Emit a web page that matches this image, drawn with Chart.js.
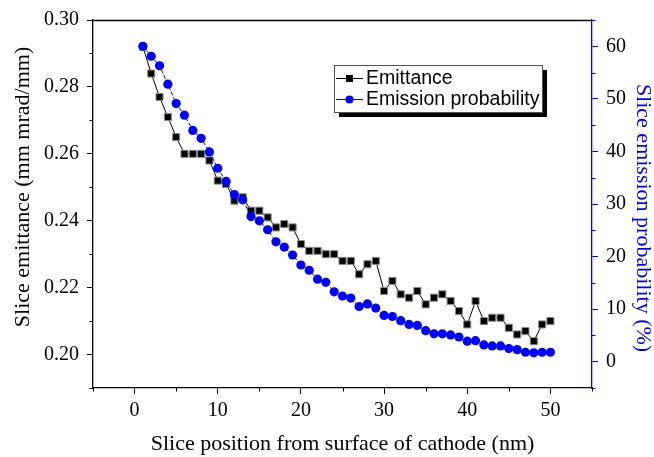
<!DOCTYPE html>
<html><head><meta charset="utf-8">
<script src="https://cdn.jsdelivr.net/npm/chart.js@4/dist/chart.umd.min.js"></script>
<style>html,body{margin:0;padding:0;background:#fff;overflow:hidden}</style>
</head><body>
<canvas id="c" width="654" height="457" style="display:block;width:654px;height:457px"></canvas>
<script>
// ---- data ----
const slicePositions = [1,2,3,4,5,6,7,8,9,10,11,12,13,14,15,16,17,18,19,20,21,22,23,24,25,26,27,28,29,30,31,32,33,34,35,36,37,38,39,40,41,42,43,44,45,46,47,48,49,50];
const emittance = [0.292,0.284,0.277,0.271,0.265,0.260,0.260,0.260,0.258,0.252,0.251,0.246,0.247,0.243,0.243,0.241,0.238,0.239,0.238,0.233,0.231,0.231,0.230,0.230,0.228,0.228,0.224,0.227,0.228,0.219,0.222,0.218,0.217,0.219,0.215,0.217,0.218,0.216,0.213,0.209,0.216,0.210,0.211,0.211,0.208,0.206,0.207,0.204,0.209,0.210];
const emissionProbability = [60.0,58.1,56.3,52.8,49.1,46.9,44.0,42.5,39.9,36.8,34.3,31.8,30.8,27.6,26.8,25.1,22.8,21.8,20.3,18.4,17.4,15.7,15.1,13.3,12.5,12.1,10.5,11.0,10.2,8.8,8.6,7.8,7.1,6.9,5.9,5.3,5.3,5.1,4.7,3.9,4.0,3.2,3.0,3.0,2.5,2.3,1.8,1.7,1.8,1.8];
const xMajorTicks = [0,10,20,30,40,50];
const xMinorTicks = [-5,5,15,25,35,45,55];
const emitMajorTicks = [0.20,0.22,0.24,0.26,0.28,0.30];
const emitMinorTicks = [0.19,0.21,0.23,0.25,0.27,0.29];
const probMajorTicks = [0,10,20,30,40,50,60];
const probMinorTicks = [-5,5,15,25,35,45,55,65];
const seriesNames = ['Emittance','Emission probability'];
const axisTitles = {
  x: 'Slice position from surface of cathode (nm)',
  left: 'Slice emittance (mm mrad/mm)',
  right: 'Slice emission probability (%)'
};

const BLUE = '#0000ff';
const SERIF = '"Liberation Serif", "Times New Roman", serif';
const SANS = '"Liberation Sans", Arial, sans-serif';

const toPts = (ys) => slicePositions.map((x, i) => ({x, y: ys[i]}));
const setTicks = (arr) => (s) => { s.ticks = arr.map(v => ({value: v})); };

const extras = {
  id: 'extras',
  afterDraw(chart) {
    const ctx = chart.ctx;
    const ca = chart.chartArea;
    const sx = chart.scales.x, sl = chart.scales.yL, sr = chart.scales.yR;
    ctx.save();
    // top frame line
    ctx.strokeStyle = '#000'; ctx.lineWidth = 1.3;
    ctx.beginPath(); ctx.moveTo(ca.left, ca.top + 0.5); ctx.lineTo(ca.right, ca.top + 0.5); ctx.stroke();
    // minor ticks
    ctx.lineWidth = 1;
    ctx.beginPath();
    xMinorTicks.forEach(v => { const p = Math.round(sx.getPixelForValue(v)) + 0.5; ctx.moveTo(p, ca.bottom); ctx.lineTo(p, ca.bottom + 3.5); });
    emitMinorTicks.forEach(v => { const p = Math.round(sl.getPixelForValue(v)) + 0.5; ctx.moveTo(ca.left, p); ctx.lineTo(ca.left - 3.5, p); });
    ctx.stroke();
    ctx.strokeStyle = BLUE;
    ctx.beginPath();
    probMinorTicks.forEach(v => { const p = Math.round(sr.getPixelForValue(v)) + 0.5; ctx.moveTo(ca.right, p); ctx.lineTo(ca.right + 3.5, p); });
    ctx.stroke();
    // y axis titles
    ctx.font = '22px ' + SERIF;
    ctx.textAlign = 'center'; ctx.textBaseline = 'middle';
    ctx.fillStyle = '#000';
    ctx.save(); ctx.translate(23, 187); ctx.rotate(-Math.PI/2); ctx.fillText(axisTitles.left, 0, 0); ctx.restore();
    ctx.fillStyle = BLUE;
    ctx.save(); ctx.translate(643, 218); ctx.rotate(Math.PI/2); ctx.fillText(axisTitles.right, 0, 0); ctx.restore();
    // legend
    const bx = 334, by = 65, bw = 208, bh = 47;
    ctx.fillStyle = '#000';
    ctx.fillRect(bx + 5, by + 5, bw, bh);
    ctx.fillStyle = '#fff';
    ctx.fillRect(bx, by, bw, bh);
    ctx.strokeStyle = '#555'; ctx.lineWidth = 1;
    ctx.strokeRect(bx + 0.5, by + 0.5, bw, bh);
    const rows = [
      {y: 78, color: '#000', style: 'rect'},
      {y: 99, color: BLUE, style: 'circle'}
    ];
    ctx.font = '19.5px ' + SANS;
    ctx.textAlign = 'left';
    rows.forEach((r, i) => {
      ctx.strokeStyle = r.color; ctx.lineWidth = 1;
      ctx.beginPath(); ctx.moveTo(336, r.y + 0.5); ctx.lineTo(363, r.y + 0.5); ctx.stroke();
      ctx.fillStyle = r.color;
      if (r.style === 'rect') ctx.fillRect(346, r.y - 3, 7, 7);
      else { ctx.beginPath(); ctx.arc(349.5, r.y + 0.5, 4, 0, Math.PI*2); ctx.fill(); }
      ctx.fillStyle = '#000';
      ctx.textBaseline = 'middle';
      ctx.fillText(seriesNames[i], 366, r.y + 1);
    });
    ctx.restore();
  }
};

new Chart(document.getElementById('c'), {
  type: 'line',
  data: {
    datasets: [
      {
        label: seriesNames[1],
        data: toPts(emissionProbability),
        yAxisID: 'yR',
        borderColor: BLUE,
        backgroundColor: BLUE,
        borderWidth: 1,
        borderDash: [4, 2],
        pointStyle: 'circle',
        pointRadius: 4.6,
        pointBorderWidth: 0,
        pointBackgroundColor: BLUE,
        order: 0
      },
      {
        label: seriesNames[0],
        data: toPts(emittance),
        yAxisID: 'yL',
        borderColor: '#000',
        backgroundColor: '#000',
        borderWidth: 1,
        pointStyle: 'rect',
        pointRadius: 5,
        pointBorderWidth: 1,
        pointBorderColor: '#8a8a8a',
        pointBackgroundColor: '#000',
        order: 1
      }
    ]
  },
  options: {
    responsive: false,
    animation: false,
    devicePixelRatio: 1,
    layout: { padding: { top: 20, left: 0, right: 0, bottom: 0 } },
    plugins: { legend: { display: false }, tooltip: { enabled: false } },
    scales: {
      x: {
        type: 'linear', position: 'bottom', min: -5, max: 55,
        afterBuildTicks: setTicks(xMajorTicks),
        afterFit: (s) => { s.height = 69; },
        border: { color: '#000', width: 1.3 },
        grid: { drawOnChartArea: false, drawTicks: true, tickLength: 6, tickColor: '#000', color: '#000' },
        ticks: { font: { family: SERIF, size: 20 }, color: '#000', padding: 5, maxRotation: 0, callback: (v) => String(v) },
        title: { display: true, text: axisTitles.x, color: '#000', font: { family: SERIF, size: 22 }, padding: { top: 0, bottom: 0 } }
      },
      yL: {
        type: 'linear', position: 'left', min: 0.19, max: 0.30,
        afterBuildTicks: setTicks(emitMajorTicks),
        afterFit: (s) => { s.width = 93; },
        border: { color: '#000', width: 1.3 },
        grid: { drawOnChartArea: false, drawTicks: true, tickLength: 6, tickColor: '#000', color: '#000' },
        ticks: { font: { family: SERIF, size: 20 }, color: '#000', padding: 8, callback: (v) => Number(v).toFixed(2) }
      },
      yR: {
        type: 'linear', position: 'right', min: -5, max: 65,
        afterBuildTicks: setTicks(probMajorTicks),
        afterFit: (s) => { s.width = 62; },
        border: { color: BLUE, width: 1.3 },
        grid: { drawOnChartArea: false, drawTicks: true, tickLength: 6, tickColor: BLUE, color: BLUE },
        ticks: { font: { family: SERIF, size: 20 }, color: '#000', padding: 8, callback: (v) => String(v) }
      }
    }
  },
  plugins: [extras]
});
</script>
</body></html>
